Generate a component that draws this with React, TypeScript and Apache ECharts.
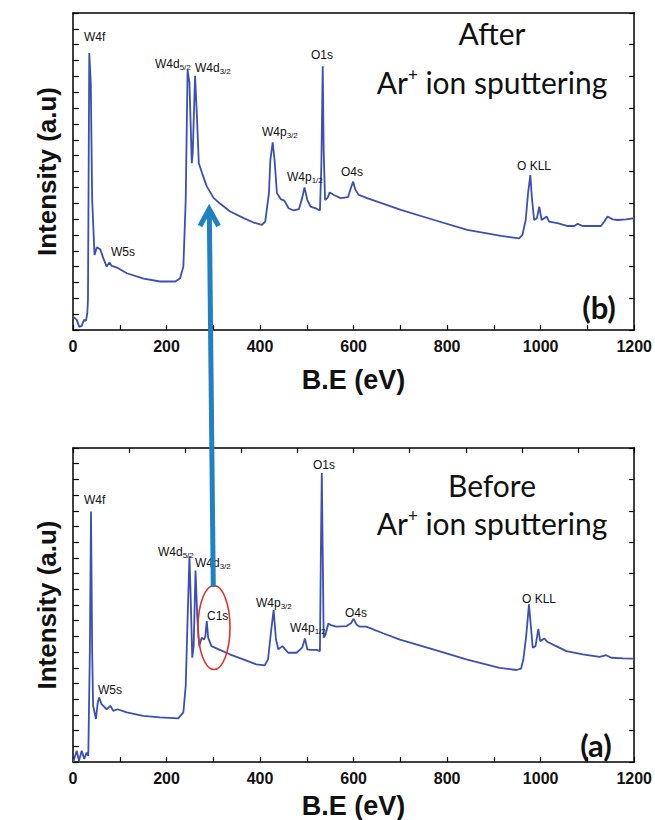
import React, { useEffect, useRef } from "react";
import * as echarts from "echarts";

// Binding energies (eV) and intensities (a.u., 0–10 scale)
const afterEV = [0.6, 7.9, 13.5, 18.6, 23.5, 27.8, 30.6, 32, 34.8, 38, 41, 46, 51, 58, 65, 72, 78, 83, 94, 115, 151, 186, 219, 229, 236, 241, 245, 249, 254, 256, 261, 265, 269, 276, 286, 301, 315, 336, 365, 386, 404, 411, 419, 422, 427, 431, 436, 444, 452, 461, 472, 483, 490, 495, 501, 508, 519, 528, 531, 534, 536, 539, 544, 549, 558, 572, 588, 594, 599, 604, 611, 629, 701, 772, 843, 915, 954, 961, 968, 973, 978, 981, 986, 992, 997, 1002, 1013, 1018, 1036, 1058, 1072, 1079, 1090, 1129, 1136, 1143, 1154, 1165, 1183, 1200];
const afterInt = [0.42, 0.32, 0.1, 0.13, 0.32, 0.29, 0.53, 0.95, 8.74, 7.8, 4.1, 2.37, 2.61, 2.55, 2.26, 2.0, 2.13, 2.02, 1.97, 1.79, 1.62, 1.53, 1.53, 1.63, 2.0, 4.1, 8.2, 7.8, 5.26, 5.58, 8.02, 6.74, 5.26, 4.95, 4.53, 4.16, 3.98, 3.74, 3.53, 3.39, 3.32, 3.42, 4.32, 5.37, 5.92, 5.37, 4.32, 4.13, 4.08, 3.84, 3.77, 3.81, 4.16, 4.5, 4.1, 3.89, 3.84, 3.77, 5.16, 8.32, 5.68, 4.1, 4.16, 4.34, 4.26, 4.16, 4.19, 4.47, 4.68, 4.42, 4.26, 4.16, 3.79, 3.47, 3.16, 2.97, 2.89, 3.0, 3.47, 4.32, 4.89, 4.21, 3.47, 3.53, 3.89, 3.47, 3.58, 3.42, 3.37, 3.28, 3.28, 3.35, 3.28, 3.28, 3.42, 3.58, 3.49, 3.47, 3.49, 3.53];

const beforeEV = [0.6, 7.9, 12.8, 18.6, 24, 29, 32.7, 36, 38.5, 41, 43, 49, 53, 56, 61, 72, 80, 86, 95, 115, 150, 186, 225, 236, 241, 245, 249, 251, 255, 258, 262, 266, 270, 275, 280, 283, 286, 289, 296, 314, 335, 364, 392, 410, 417, 424, 429, 434, 439, 448, 460, 478, 490, 496, 501, 508, 521, 528, 530, 532, 534, 536, 540, 546, 553, 563, 585, 595, 600, 606, 613, 627, 663, 699, 770, 841, 912, 948, 958, 963, 969, 975, 979, 983, 989, 995, 999, 1008, 1015, 1033, 1055, 1090, 1126, 1140, 1151, 1176, 1197];
const beforeInt = [0, 0.36, 0.04, 0.36, 0.1, 0.3, 0.2, 3.5, 7.98, 3.48, 1.79, 1.37, 1.9, 2.05, 1.84, 1.68, 1.79, 1.63, 1.68, 1.58, 1.47, 1.42, 1.39, 1.58, 2.42, 4.54, 6.55, 5.6, 3.32, 3.69, 6.1, 4.54, 3.69, 3.96, 3.9, 4.01, 4.49, 3.96, 3.69, 3.57, 3.43, 3.27, 3.11, 3.08, 3.27, 4.22, 4.84, 3.9, 3.59, 3.69, 3.48, 3.48, 3.64, 3.93, 3.59, 3.57, 3.57, 3.53, 6.66, 9.2, 6.66, 3.96, 4.06, 4.41, 4.35, 4.31, 4.33, 4.43, 4.56, 4.38, 4.31, 4.31, 4.1, 3.9, 3.59, 3.27, 3.0, 2.93, 2.97, 3.27, 4.01, 5.02, 4.33, 3.64, 3.69, 4.24, 3.85, 3.93, 3.82, 3.69, 3.53, 3.43, 3.35, 3.4, 3.32, 3.3, 3.29];

const xTickLabels = ["0", "200", "400", "600", "800", "1000", "1200"];
const xAxisName = "B.E (eV)";
const yAxisName = "Intensity (a.u)";

const LINE = "#3a50b4";
const ARROW = "#1f80c4";

const pair = (xs: number[], ys: number[]) => xs.map((x, i) => [x, ys[i]]);

function peakLabel(x: number, y: number, main: string, sub?: string) {
  return {
    type: "text",
    x,
    y,
    z: 10,
    style: {
      text: sub ? `{m|${main}}{s|${sub}}` : `{m|${main}}`,
      rich: {
        m: { fontSize: 12, fontFamily: "Liberation Sans, Arial", fill: "#111", lineHeight: 14 },
        s: { fontSize: 8, fontFamily: "Liberation Sans, Arial", fill: "#111", lineHeight: 6, verticalAlign: "bottom" },
      },
      textVerticalAlign: "middle",
    },
  };
}

function titleText(cx: number, y1: number, y2: number, first: string) {
  return [
    {
      type: "text",
      x: cx,
      y: y1,
      style: { text: first, font: "30px Lato", fill: "#111", textAlign: "center", textVerticalAlign: "middle" },
    },
    {
      type: "text",
      x: cx,
      y: y2,
      style: {
        text: "{a|Ar}{p|+}{a| ion sputtering}",
        rich: {
          a: { fontSize: 30, fontFamily: "Lato", fill: "#111", lineHeight: 32 },
          p: { fontSize: 17, fontFamily: "Lato", fill: "#111", lineHeight: 32, verticalAlign: "top", padding: [0, 0, 10, 0] },
        },
        textAlign: "center",
        textVerticalAlign: "middle",
      },
    },
  ];
}

export default function App() {
  const ref = useRef<HTMLDivElement>(null);
  useEffect(() => {
    if (!ref.current) return;
    const chart = echarts.init(ref.current, undefined, { renderer: "svg" });

    const axisLine = { show: true, onZero: false, lineStyle: { color: "#000", width: 1.5 } };
    const bottomX = (gridIndex: number, nameGap: number) => ({
      type: "value",
      gridIndex,
      position: "bottom",
      min: 0,
      max: 1200,
      interval: 200,
      axisLine,
      axisTick: { show: true, inside: true, length: 5, lineStyle: { color: "#000", width: 1.2 } },
      minorTick: { show: true, splitNumber: 2, length: 5, lineStyle: { color: "#000", width: 1.2 } },
      splitLine: { show: false },
      axisLabel: {
        margin: 8,
        fontSize: 16,
        fontWeight: "bold",
        fontFamily: "Liberation Sans, Arial",
        color: "#111",
        formatter: (v: number) => xTickLabels[Math.round(v / 200)] ?? String(v),
      },
      name: xAxisName,
      nameLocation: "middle",
      nameGap,
      nameTextStyle: { fontSize: 27, fontWeight: "bold", fontFamily: "Liberation Sans, Arial", color: "#111" },
    });
    const topX = (gridIndex: number, ticks: boolean) => ({
      type: "value",
      gridIndex,
      position: "top",
      min: 0,
      max: 10,
      interval: 1,
      axisLine,
      axisTick: { show: ticks, inside: true, length: 5, lineStyle: { color: "#000", width: 1.2 } },
      axisLabel: { show: false },
      splitLine: { show: false },
    });
    const leftY = (gridIndex: number) => ({
      type: "value",
      gridIndex,
      position: "left",
      min: 0,
      max: 10,
      interval: 1,
      axisLine,
      axisTick: { show: true, inside: true, length: 6, lineStyle: { color: "#000", width: 1.2 } },
      minorTick: { show: true, splitNumber: 2, length: 6, lineStyle: { color: "#000", width: 1.2 } },
      axisLabel: { show: false },
      splitLine: { show: false },
      name: yAxisName,
      nameLocation: "middle",
      nameGap: 13,
      nameRotate: 90,
      nameTextStyle: { fontSize: 26, fontWeight: "bold", fontFamily: "Liberation Sans, Arial", color: "#111" },
    });
    const rightY = (gridIndex: number) => ({
      type: "value",
      gridIndex,
      position: "right",
      min: 0,
      max: 10,
      interval: 1,
      axisLine,
      axisTick: { show: true, inside: true, length: 5, lineStyle: { color: "#000", width: 1.2 } },
      axisLabel: { show: false },
      splitLine: { show: false },
    });

    const graphics: any[] = [
      // top panel labels
      peakLabel(84, 37, "W4f"),
      peakLabel(155, 64, "W4d", "5/2"),
      peakLabel(195, 68, "W4d", "3/2"),
      peakLabel(311, 55, "O1s"),
      peakLabel(262, 132, "W4p", "3/2"),
      peakLabel(287, 177, "W4p", "1/2"),
      peakLabel(341, 172, "O4s"),
      peakLabel(111, 252, "W5s"),
      peakLabel(517, 166, "O KLL"),
      // bottom panel labels
      peakLabel(84, 500, "W4f"),
      peakLabel(158, 552, "W4d", "5/2"),
      peakLabel(195, 563, "W4d", "3/2"),
      peakLabel(207, 616, "C1s"),
      peakLabel(256, 603, "W4p", "3/2"),
      peakLabel(290, 628, "W4p", "1/2"),
      peakLabel(313, 465, "O1s"),
      peakLabel(345, 613, "O4s"),
      peakLabel(522, 599, "O KLL"),
      peakLabel(98, 690, "W5s"),
      ...titleText(492, 33, 82, "After"),
      ...titleText(492, 485, 523, "Before"),
      {
        type: "text",
        x: 599,
        y: 307,
        style: { text: "(b)", font: "bold 31px Lato", fill: "#111", textAlign: "center", textVerticalAlign: "middle" },
      },
      {
        type: "text",
        x: 596,
        y: 745,
        style: { text: "(a)", font: "bold 31px Lato", fill: "#111", textAlign: "center", textVerticalAlign: "middle" },
      },
      {
        type: "ellipse",
        z: 11,
        shape: { cx: 214, cy: 627.5, rx: 16, ry: 42 },
        style: { fill: "none", stroke: "#e3342a", lineWidth: 1.6 },
      },
      {
        type: "line",
        z: 12,
        shape: { x1: 213.3, y1: 587, x2: 209.3, y2: 210 },
        style: { stroke: ARROW, lineWidth: 5 },
      },
      {
        type: "polyline",
        z: 12,
        shape: { points: [[200, 226], [209.2, 209], [218.5, 226]] },
        style: { stroke: ARROW, lineWidth: 5, fill: "none", lineJoin: "miter", lineCap: "butt" },
      },
    ];

    chart.setOption({
      animation: false,
      backgroundColor: "#fff",
      grid: [
        { left: 73, top: 13, width: 562, height: 317 },
        { left: 73, top: 448, width: 562, height: 315 },
      ],
      xAxis: [bottomX(0, 36), topX(0, false), bottomX(1, 30), topX(1, true)],
      yAxis: [leftY(0), rightY(0), leftY(1), rightY(1)],
      series: [
        {
          type: "line",
          xAxisIndex: 0,
          yAxisIndex: 0,
          data: pair(afterEV, afterInt),
          showSymbol: false,
          lineStyle: { color: LINE, width: 1.8 },
        },
        {
          type: "line",
          xAxisIndex: 2,
          yAxisIndex: 2,
          data: pair(beforeEV, beforeInt),
          showSymbol: false,
          lineStyle: { color: LINE, width: 1.8 },
        },
      ],
      graphic: graphics,
    });
    return () => chart.dispose();
  }, []);
  return (
    <div
      ref={ref}
      style={{ position: "absolute", left: 0, top: 0, width: 655, height: 820 }}
    />
  );
}
